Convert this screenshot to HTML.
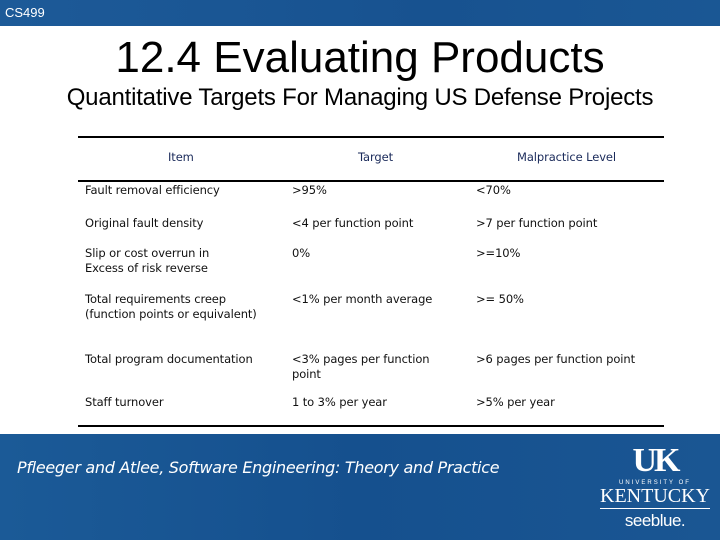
<!DOCTYPE html>
<html><head><meta charset="utf-8"><style>
body{margin:0;width:720px;height:540px;position:relative;overflow:hidden;background:#fff;font-family:"Liberation Sans","DejaVu Sans",sans-serif;}
.a{position:absolute;white-space:nowrap;}
.t{font-family:"DejaVu Sans","Liberation Sans",sans-serif;font-size:11.5px;color:#111;letter-spacing:-0.1px;line-height:14.5px;}
.h{color:#1a2a5a;}
.line{position:absolute;left:78px;width:586px;background:#000;}
</style></head><body>
<div class="a" style="left:0;top:0;width:720px;height:26px;background:linear-gradient(90deg,#1d5a98,#175290 60%,#1a5794);"></div>
<div class="a" style="left:5px;top:5px;color:#fff;font-size:13px;">CS499</div>
<div class="a" style="left:0;width:720px;text-align:center;top:33px;font-size:44px;color:#000;">12.4 Evaluating Products</div>
<div class="a" style="left:0;width:720px;text-align:center;top:84px;font-size:24px;letter-spacing:-0.2px;color:#000;">Quantitative Targets For Managing US Defense Projects</div>
<div class="line" style="top:136px;height:2px;"></div>
<div class="line" style="top:180px;height:2px;"></div>
<div class="line" style="top:425px;height:2px;"></div>
<div class="a t h" style="left:168px;top:150px;">Item</div>
<div class="a t h" style="left:358px;top:150px;">Target</div>
<div class="a t h" style="left:517px;top:150px;">Malpractice Level</div>

<div class="a t" style="left:85px;top:183px;">Fault removal efficiency</div>
<div class="a t" style="left:292px;top:183px;">&gt;95%</div>
<div class="a t" style="left:476px;top:183px;">&lt;70%</div>

<div class="a t" style="left:85px;top:216px;">Original fault density</div>
<div class="a t" style="left:292px;top:216px;">&lt;4 per function point</div>
<div class="a t" style="left:476px;top:216px;">&gt;7 per function point</div>

<div class="a t" style="left:85px;top:246px;">Slip or cost overrun in<br>Excess of risk reverse</div>
<div class="a t" style="left:292px;top:246px;">0%</div>
<div class="a t" style="left:476px;top:246px;">&gt;=10%</div>

<div class="a t" style="left:85px;top:292px;">Total requirements creep<br>(function points or equivalent)</div>
<div class="a t" style="left:292px;top:292px;">&lt;1% per month average</div>
<div class="a t" style="left:476px;top:292px;">&gt;= 50%</div>

<div class="a t" style="left:85px;top:352px;">Total program documentation</div>
<div class="a t" style="left:292px;top:352px;">&lt;3% pages per function<br>point</div>
<div class="a t" style="left:476px;top:352px;">&gt;6 pages per function point</div>

<div class="a t" style="left:85px;top:395px;">Staff turnover</div>
<div class="a t" style="left:292px;top:395px;">1 to 3% per year</div>
<div class="a t" style="left:476px;top:395px;">&gt;5% per year</div>

<div class="a" style="left:0;top:434px;width:720px;height:106px;background:linear-gradient(90deg,#1b5a97,#15508e 50%,#1a5693);"></div>
<div class="a" style="left:17px;top:458px;color:#fff;font-family:'DejaVu Sans',sans-serif;font-style:italic;font-size:16px;letter-spacing:-0.3px;">Pfleeger and Atlee, Software Engineering: Theory and Practice</div>
<div class="a" style="left:600px;top:444px;width:110px;color:#fff;text-align:center;">
<div style="font-family:'Liberation Serif',serif;font-weight:bold;font-size:34px;line-height:34px;letter-spacing:-3px;">UK</div>
<div style="font-size:6px;letter-spacing:2px;margin-top:2px;">UNIVERSITY OF</div>
<div style="font-family:'Liberation Serif',serif;font-size:20px;line-height:20px;border-bottom:1px solid #fff;padding-bottom:2px;">KENTUCKY</div>
<div style="font-size:17px;margin-top:2px;letter-spacing:-0.5px;">seeblue.</div>
</div>
</body></html>
